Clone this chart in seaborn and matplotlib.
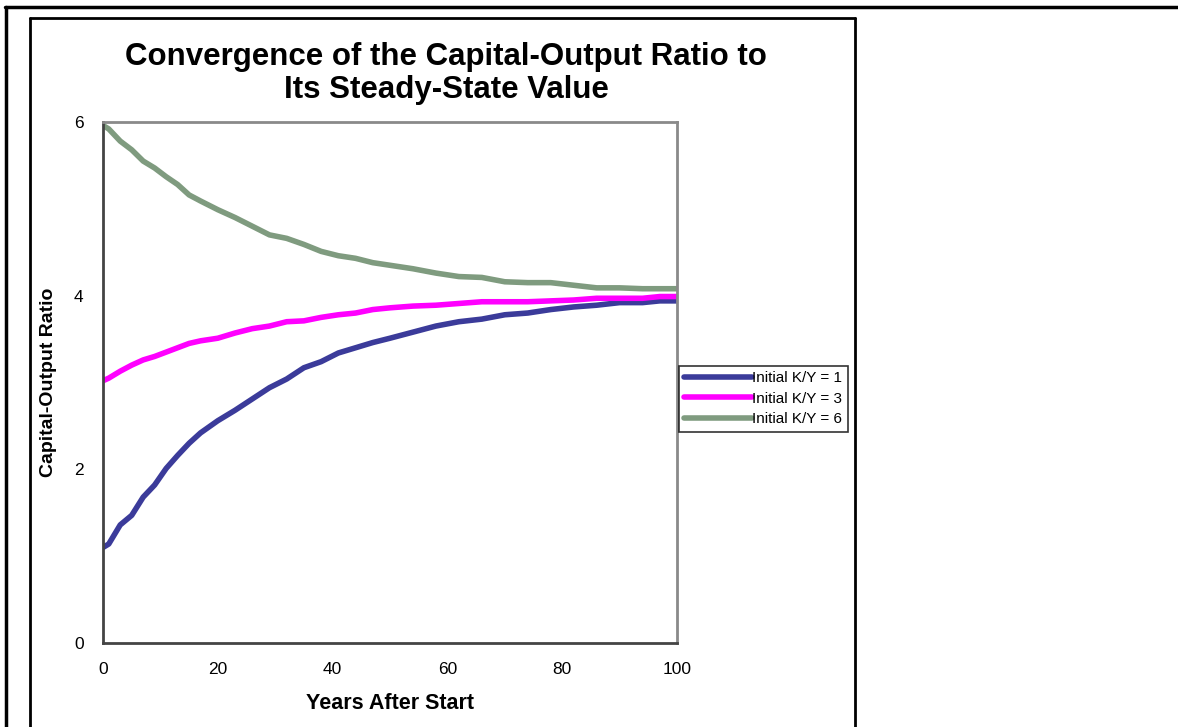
import numpy as np
import pandas as pd
import matplotlib
matplotlib.use("Agg")
import matplotlib.pyplot as plt
from matplotlib.lines import Line2D
import seaborn as sns

# ---- data ----
years = [0, 1, 3, 5, 7, 9, 11, 13, 15, 17, 20, 23, 26, 29, 32, 35, 38, 41, 44, 47,
         50, 54, 58, 62, 66, 70, 74, 78, 82, 86, 90, 94, 97, 100]
ky_start1 = [1.10, 1.14, 1.36, 1.47, 1.68, 1.82, 2.01, 2.16, 2.30, 2.42, 2.56, 2.68,
             2.81, 2.94, 3.04, 3.17, 3.24, 3.34, 3.40, 3.46, 3.51, 3.58, 3.65, 3.70,
             3.73, 3.78, 3.80, 3.84, 3.87, 3.89, 3.92, 3.92, 3.94, 3.94]
ky_start3 = [3.02, 3.05, 3.13, 3.20, 3.26, 3.30, 3.35, 3.40, 3.45, 3.48, 3.51, 3.57,
             3.62, 3.65, 3.70, 3.71, 3.75, 3.78, 3.80, 3.84, 3.86, 3.88, 3.89, 3.91,
             3.93, 3.93, 3.93, 3.94, 3.95, 3.97, 3.97, 3.97, 3.99, 3.99]
ky_start6 = [5.96, 5.92, 5.78, 5.68, 5.55, 5.47, 5.37, 5.28, 5.16, 5.09, 4.99, 4.90,
             4.80, 4.70, 4.66, 4.59, 4.51, 4.46, 4.43, 4.38, 4.35, 4.31, 4.26, 4.22,
             4.21, 4.16, 4.15, 4.15, 4.12, 4.09, 4.09, 4.08, 4.08, 4.08]
series_names = ["Initial K/Y = 1", "Initial K/Y = 3", "Initial K/Y = 6"]
x_ticks = [0, 20, 40, 60, 80, 100]
y_ticks = [0, 2, 4, 6]

colors = ["#3b3b9a", "#ff00ff", "#7f9b7f"]

df = pd.concat([
    pd.DataFrame({"Years": years, "Ratio": vals, "Series": name})
    for name, vals in zip(series_names, [ky_start1, ky_start3, ky_start6])
], ignore_index=True)

sns.set_theme(style="white")
plt.rcParams["font.family"] = ["Liberation Sans", "DejaVu Sans"]
plt.rcParams["text.color"] = "black"
plt.rcParams["axes.labelcolor"] = "black"
plt.rcParams["xtick.color"] = "black"
plt.rcParams["ytick.color"] = "black"

W, H = 1178, 727
fig = plt.figure(figsize=(W / 100, H / 100), dpi=100)
ax = fig.add_axes([103 / W, 1 - 643 / H, (677 - 103) / W, (643 - 122) / H])

sns.lineplot(data=df, x="Years", y="Ratio", hue="Series", palette=colors,
             hue_order=series_names, linewidth=4.0, ax=ax, legend=False)

ax.set_xlim(0, 100)
ax.set_ylim(0, 6)
ax.set_xticks(x_ticks)
ax.set_yticks(y_ticks)
ax.tick_params(axis="both", labelsize=12.5, colors="black", direction="out",
               length=5, width=1)
ax.tick_params(axis="x", pad=9)
ax.tick_params(axis="y", pad=9)
for side in ["top", "right"]:
    ax.spines[side].set_color("#8a8a8a")
    ax.spines[side].set_linewidth(2)
for side in ["left", "bottom"]:
    ax.spines[side].set_color("#444444")
    ax.spines[side].set_linewidth(2)

ax.set_xlabel("Years After Start", fontsize=15.5, fontweight="bold", labelpad=11)
ax.set_ylabel("Capital-Output Ratio", fontsize=14, fontweight="bold", labelpad=12)

# title (two lines centered)
fig.text(446 / W, 1 - 57 / H, "Convergence of the Capital-Output Ratio to",
         ha="center", va="center", fontsize=22.5, fontweight="bold")
fig.text(446 / W, 1 - 90 / H, "Its Steady-State Value",
         ha="center", va="center", fontsize=22.5, fontweight="bold")

# legend
handles = [Line2D([0], [0], color=c, lw=4.0) for c in colors]
leg = fig.legend(handles, series_names, loc="upper left",
                 bbox_to_anchor=(679 / W, 1 - 366 / H), bbox_transform=fig.transFigure,
                 fontsize=11, frameon=True, fancybox=False, handlelength=4.4,
                 handletextpad=0.05, labelspacing=0.42, borderpad=0.35,
                 borderaxespad=0)
leg.get_frame().set_edgecolor("black")
leg.get_frame().set_linewidth(1.2)

# outer frame lines
fig.add_artist(Line2D([5 / W, 1.0], [1 - 7 / H, 1 - 7 / H], color="black", lw=2.5,
                      transform=fig.transFigure))
fig.add_artist(Line2D([6 / W, 6 / W], [1 - 7 / H, 0], color="black", lw=2.5,
                      transform=fig.transFigure))
# inner chart box
fig.add_artist(Line2D([30 / W, 855 / W], [1 - 18 / H, 1 - 18 / H], color="black", lw=2,
                      transform=fig.transFigure))
fig.add_artist(Line2D([30 / W, 30 / W], [1 - 18 / H, 0], color="black", lw=2,
                      transform=fig.transFigure))
fig.add_artist(Line2D([855 / W, 855 / W], [1 - 18 / H, 0], color="black", lw=2,
                      transform=fig.transFigure))

fig.savefig("out.png", dpi=100)
